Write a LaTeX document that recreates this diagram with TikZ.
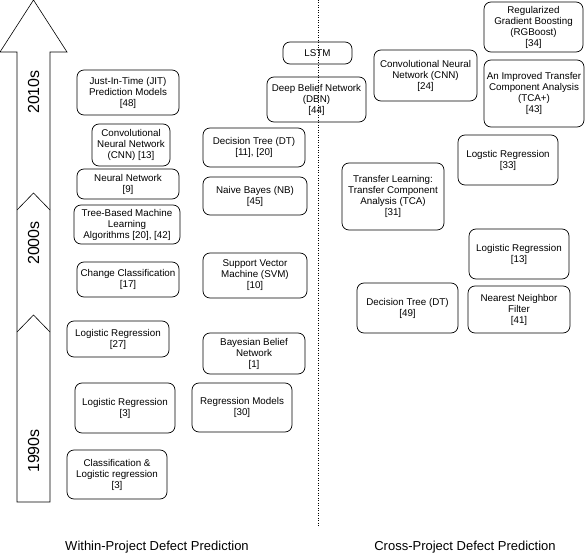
\documentclass[tikz,border=0pt]{standalone}
\usepackage{fontspec}
\setmainfont{Liberation Sans}
\begin{document}
\begin{tikzpicture}[x=1pt,y=-1pt,
  box/.style={draw=black, line width=0.7pt, rounded corners=7pt, align=center, inner sep=1pt,
              font=\fontsize{9.8}{11}\selectfont},
  era/.style={rotate=90, font=\fontsize{16}{18}\selectfont},
  sect/.style={font=\fontsize{13}{15}\selectfont},
  axisline/.style={draw=black, line width=0.6pt}]
\useasboundingbox (0,0) rectangle (586,556);
% timeline arrow
\draw[axisline] (17,502) -- (17,52) -- (0,52) -- (33.5,0) -- (67,52) -- (50,52) -- (50,502) -- cycle;
\draw[axisline] (17,210) -- (33.5,193) -- (50,210);
\draw[axisline] (17,332) -- (33.5,315) -- (50,332);
\node[era] (e2010) at (33.5,92) {2010s};
\node[era] (e2000) at (33.5,243) {2000s};
\node[era] (e1990) at (33.5,451) {1990s};
% divider
\coordinate (dtop) at (318,0);
\coordinate (dbot) at (318,527);
\draw[line width=0.6pt, dash pattern=on 1pt off 1.5pt] (dtop) -- (dbot);
% left column
\node[box, minimum width=102pt, minimum height=45pt] (jit) at (128,92.5) {Just-In-Time (JIT)\\Prediction Models\\{}[48]};
\node[box, minimum width=78pt, minimum height=42pt] (cnn13) at (131,145) {Convolutional\\Neural Network\\(CNN) [13]};
\node[box, minimum width=102pt, minimum height=30pt] (nn) at (128,184) {Neural Network\\{}[9]};
\node[box, minimum width=106pt, minimum height=39pt] (tree) at (127,224.5) {Tree-Based Machine\\Learning\\Algorithms [20], [42]};
\node[box, minimum width=102pt, minimum height=35pt] (change) at (128,279.5) {Change Classification\\{}[17]};
\node[box, minimum width=102pt, minimum height=36pt] (lr27) at (118,339) {Logistic Regression\\{}[27]};
\node[box, minimum width=100pt, minimum height=50pt] (lr3) at (125,408) {Logistic Regression\\{}[3]};
\node[box, minimum width=100pt, minimum height=49pt] (cls3) at (117,474.5) {Classification \&\\Logistic regression\\{}[3]};
% middle column
\node[box, minimum width=69pt, minimum height=22pt] (lstm) at (317.5,53) {LSTM};
\node[box, minimum width=99pt, minimum height=45pt] (dbn) at (316.5,99.5) {Deep Belief Network\\(DBN)\\{}[44]};
\node[box, minimum width=102pt, minimum height=39pt] (dt) at (254,147.5) {Decision Tree (DT)\\{}[11], [20]};
\node[box, minimum width=104pt, minimum height=38pt] (nb) at (255,196) {Naive Bayes (NB)\\{}[45]};
\node[box, minimum width=104pt, minimum height=45pt] (svm) at (255,275.5) {Support Vector\\Machine (SVM)\\{}[10]};
\node[box, minimum width=102pt, minimum height=41pt] (bbn) at (254,353.5) {Bayesian Belief\\Network\\{}[1]};
\node[box, minimum width=100pt, minimum height=49pt] (rm) at (242,407.5) {Regression Models\\{}[30]};
% right column
\node[box, minimum width=99pt, minimum height=50pt] (rgb) at (533.5,27) {Regularized\\Gradient Boosting\\(RGBoost)\\{}[34]};
\node[box, minimum width=103pt, minimum height=51pt] (cnn24) at (425.5,75.5) {Convolutional Neural\\Network (CNN)\\{}[24]};
\node[box, minimum width=100pt, minimum height=67pt] (tcap) at (534,93.5) {An Improved Transfer\\Component Analysis\\(TCA+)\\{}[43]};
\node[box, minimum width=100pt, minimum height=50pt] (lr33) at (508,160) {Logstic Regression\\{}[33]};
\node[box, minimum width=102pt, minimum height=67pt] (tca) at (393,196.5) {Transfer Learning:\\Transfer Component\\Analysis (TCA)\\{}[31]};
\node[box, minimum width=100pt, minimum height=50pt] (lr13) at (519,254) {Logistic Regression\\{}[13]};
\node[box, minimum width=101pt, minimum height=50pt] (dt49) at (407.5,308) {Decision Tree (DT)\\{}[49]};
\node[box, minimum width=102pt, minimum height=47pt] (nnf) at (519,309.5) {Nearest Neighbor\\Filter\\{}[41]};
% section labels
\node[sect] (within) at (157,547) {Within-Project Defect Prediction};
\node[sect] (cross) at (465,547) {Cross-Project Defect Prediction};
\end{tikzpicture}
\end{document}
